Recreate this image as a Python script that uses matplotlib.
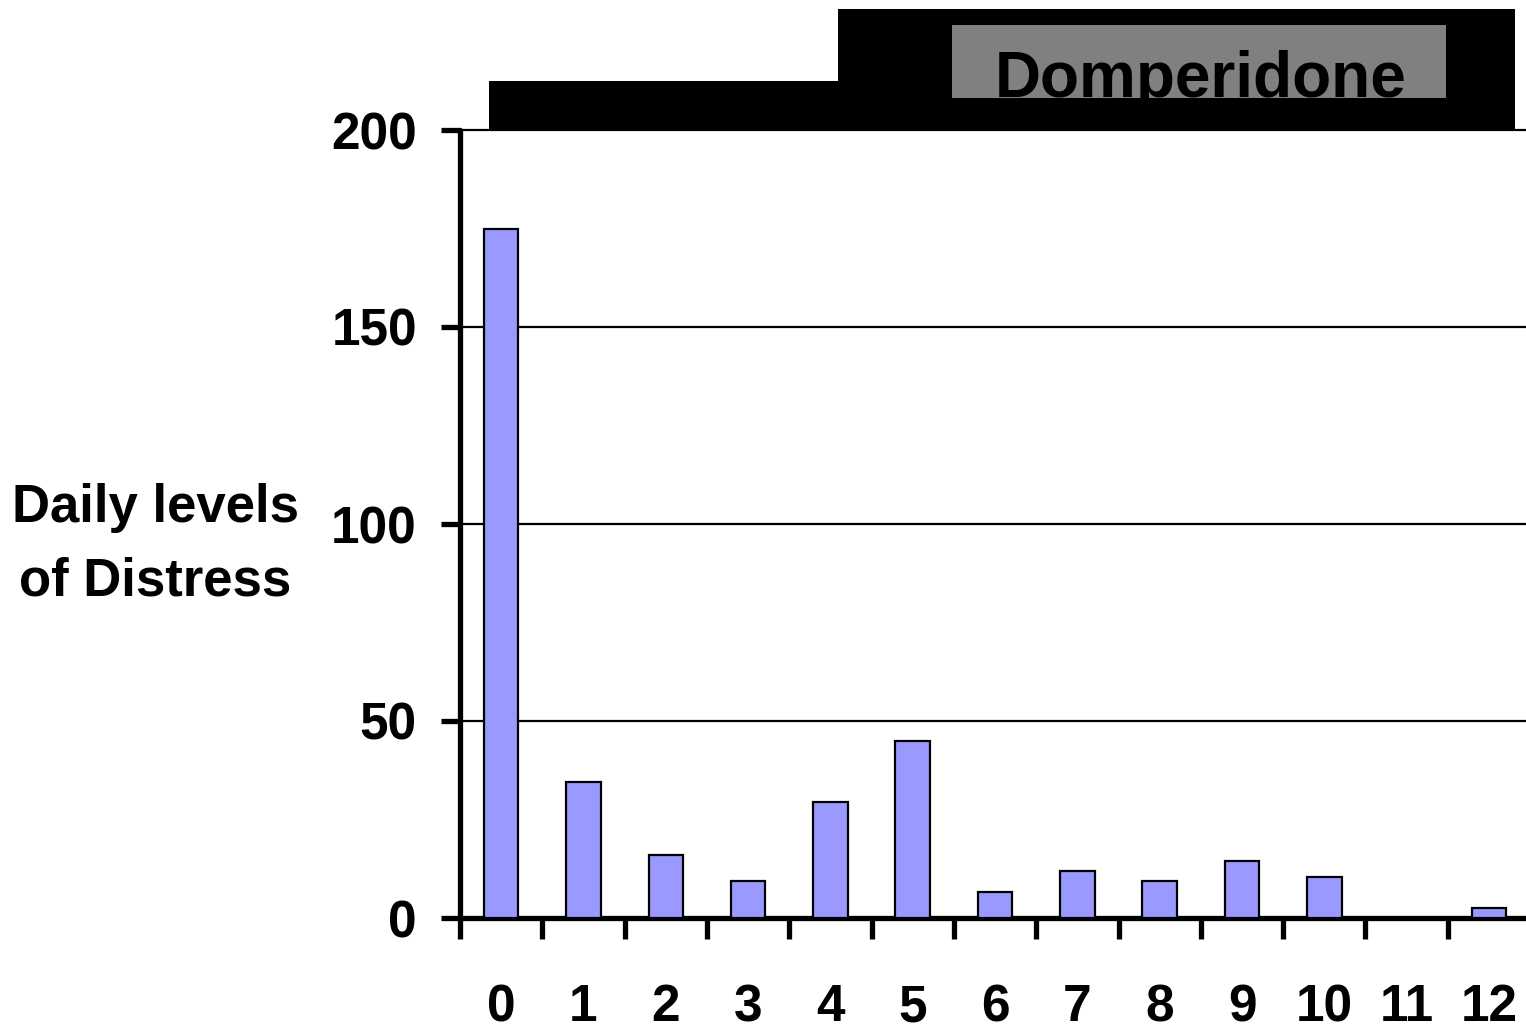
import matplotlib.pyplot as plt
from matplotlib.patches import Rectangle
from matplotlib.ticker import FixedLocator

plt.rcParams['font.family'] = ['Liberation Sans', 'DejaVu Sans']
plt.rcParams['font.weight'] = 'bold'

# daily distress scores
days = list(range(13))
day_labels = [str(d) for d in days]
distress = [175, 34.5, 16, 9.5, 29.5, 45, 6.5, 12, 9.5, 14.5, 10.5, 0, 2.5]

# treatment phase bands drawn above the plot (x in day units, top in score units)
baseline_band = (-0.15, 4.09, 212.5)
drug_band = (4.09, 12.32, 230.7)
drug_label = 'Domperidone'
label_box = (5.48, 11.48, 208.1, 226.6)

fig = plt.figure(figsize=(15.26, 10.32), dpi=100)
ax = fig.add_axes([460 / 1526, 1 - 918 / 1032, 1 - 460 / 1526, (918 - 130) / 1032])

ax.bar(days, distress, width=0.42, color='#9999ff', edgecolor='black',
       linewidth=1.6, zorder=3)

ax.set_xlim(-0.5, 12.45)
ax.set_ylim(0, 200)

# horizontal gridlines
for y in [50, 100, 150, 200]:
    ax.axhline(y, color='black', linewidth=1.6, zorder=1, clip_on=False)

for s in ['top', 'right']:
    ax.spines[s].set_visible(False)
for s in ['left', 'bottom']:
    ax.spines[s].set_linewidth(3.8)
    ax.spines[s].set_capstyle('round')

ax.set_yticks([0, 50, 100, 150, 200])
ax.tick_params(axis='y', direction='out', length=14, width=3.8, pad=17,
               labelsize=37)
ax.set_xticks(days)
ax.set_xticklabels(day_labels)
ax.tick_params(axis='x', which='major', length=0, pad=47, labelsize=37)
ax.xaxis.set_minor_locator(FixedLocator([d - 0.5 for d in days]))
ax.tick_params(axis='x', which='minor', direction='out', length=15, width=3.8)

# phase bands
for x0, x1, top in [baseline_band, drug_band]:
    ax.add_patch(Rectangle((x0, 200), x1 - x0, top - 200, facecolor='black',
                           edgecolor='none', clip_on=False, zorder=4))
bx0, bx1, by0, by1 = label_box
ax.add_patch(Rectangle((bx0, by0), bx1 - bx0, by1 - by0, facecolor='#808080',
                       edgecolor='none', clip_on=False, zorder=5))
ax.text((bx0 + bx1) / 2 + 0.02, 208.4, drug_label, ha='center', va='baseline',
        fontsize=46, fontweight='bold', color='black', clip_on=False, zorder=6)

fig.text(155 / 1526, 1 - 545 / 1032, 'Daily levels\nof Distress', ha='center',
         va='center', multialignment='center', fontsize=38, fontweight='bold',
         linespacing=1.6)

fig.savefig('out.png', dpi=100)
